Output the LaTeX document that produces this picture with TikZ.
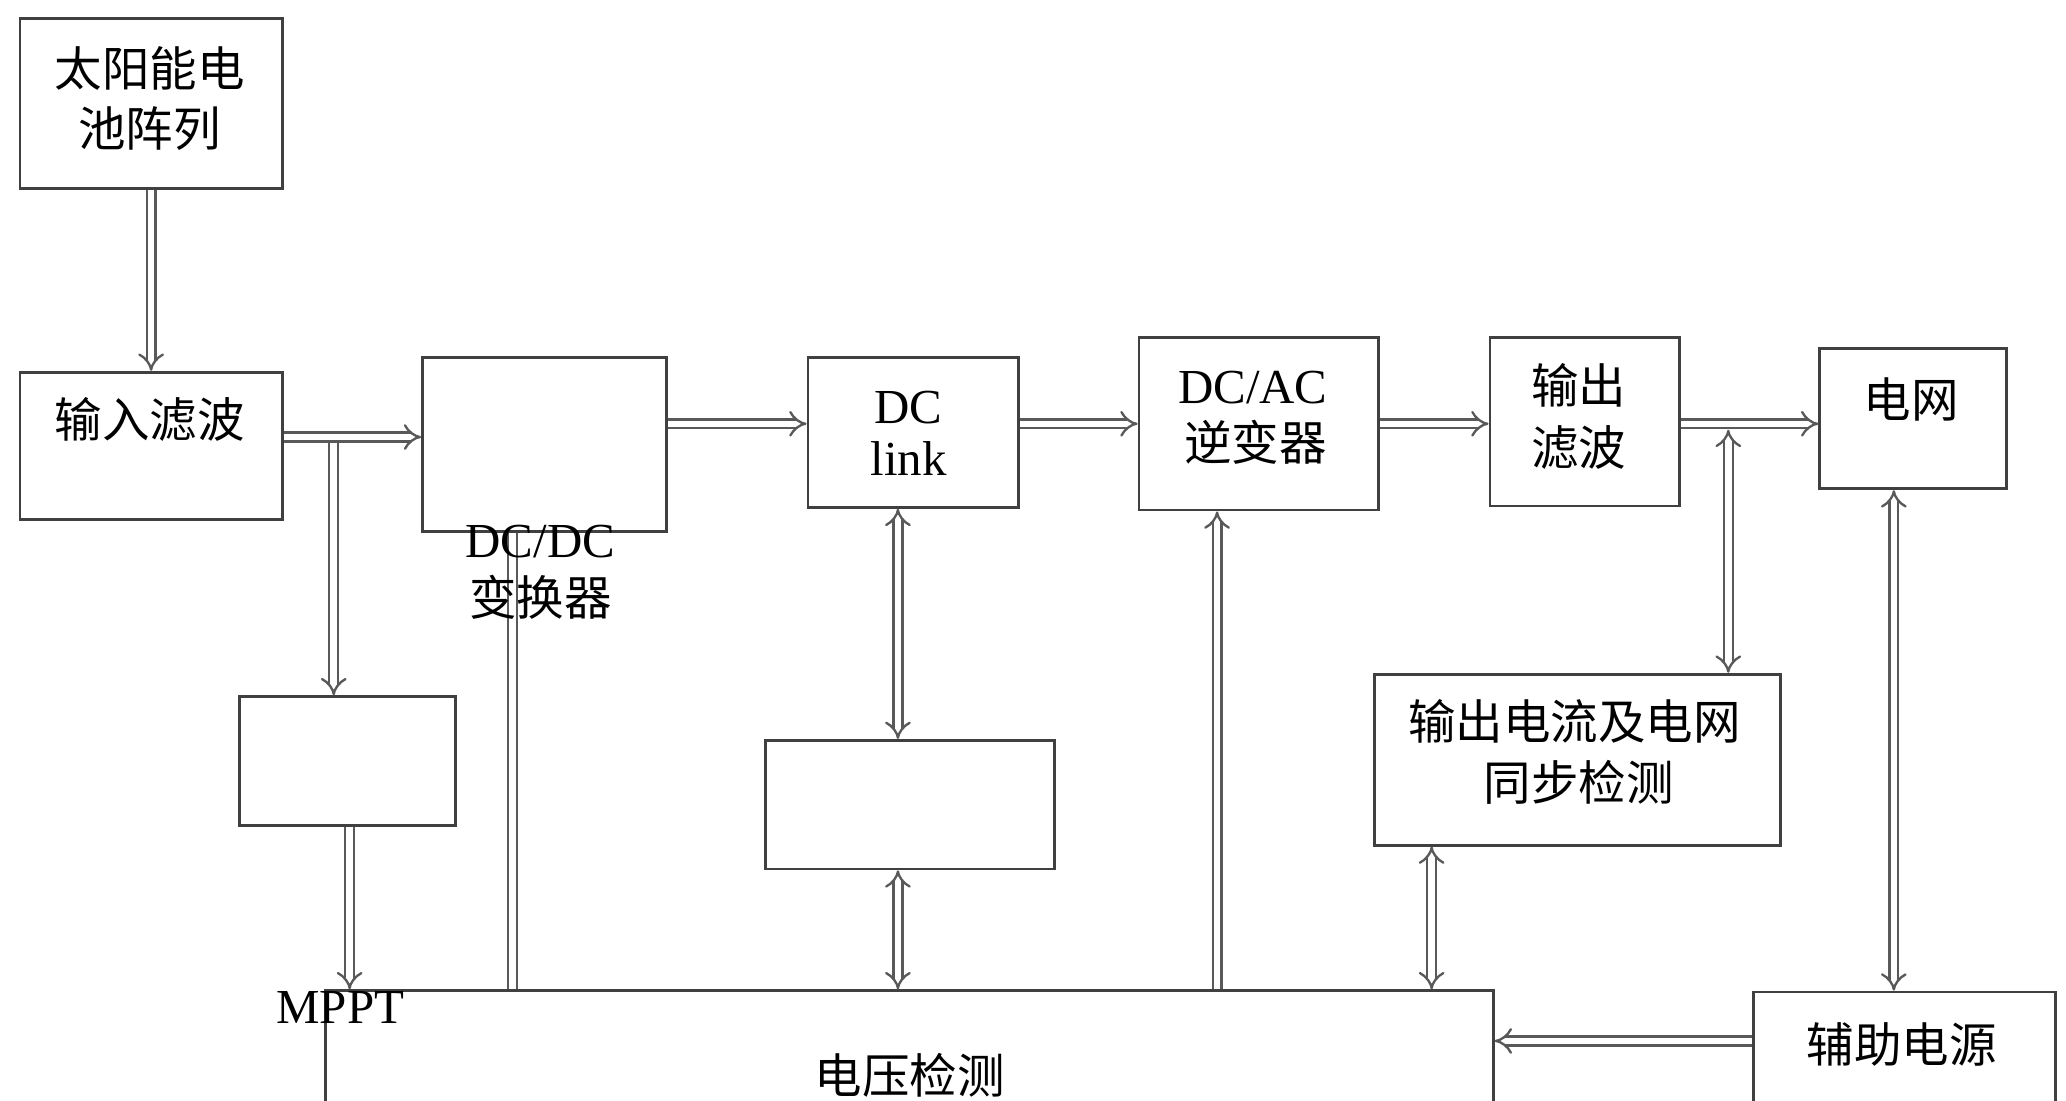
\documentclass[tikz,border=0pt]{standalone}
\usepackage{fontspec}
\setmainfont{Liberation Serif}
\newfontfamily\cjk{Noto Sans CJK SC}
\usetikzlibrary{arrows.meta,calc}
\begin{document}
\begin{tikzpicture}[x=0.01cm,y=-0.01cm,
  box/.style={draw=black!75, line width=0.6pt, rectangle, inner sep=0pt, anchor=north west},
  cn/.style={font=\cjk\fontsize{10.2}{12}\selectfont, inner sep=0pt, text=black},
  lat/.style={font=\fontsize{10.5}{12}\selectfont, inner sep=0pt, anchor=base, text=black},
  con/.style={draw=black!65, line width=0.5pt, double=white, double distance=1.4pt},
  arr/.style={con, -{Implies}},
  barr/.style={con, {Implies}-{Implies}}]
\useasboundingbox (0,0) rectangle (1560,831);
\clip (0,0) rectangle (1560,831);
\fill[white] (0,0) rectangle (1560,831);

% boxes
\node[box, minimum width=1.98cm, minimum height=1.28cm] (sun) at (14,13) {};
\node[box, minimum width=1.98cm, minimum height=1.11cm] (filt) at (14,280) {};
\node[box, minimum width=1.84cm, minimum height=1.31cm] (dcdc) at (318,269) {};
\node[box, minimum width=1.59cm, minimum height=1.13cm] (link) at (609,269) {};
\node[box, minimum width=1.81cm, minimum height=1.30cm] (dcac) at (859,254) {};
\node[box, minimum width=1.43cm, minimum height=1.27cm] (ofilt) at (1124,254) {};
\node[box, minimum width=1.41cm, minimum height=1.06cm] (grid) at (1373,262) {};
\node[box, minimum width=1.63cm, minimum height=0.97cm] (mppt) at (180,525) {};
\node[box, minimum width=2.18cm, minimum height=0.97cm] (mid) at (577,558) {};
\node[box, minimum width=3.06cm, minimum height=1.29cm] (sync) at (1037,508) {};
\node[box, minimum width=8.81cm, minimum height=1.20cm] (volt) at (245,747) {};
\node[box, minimum width=2.28cm, minimum height=1.20cm] (aux) at (1323,748) {};

% connectors
\draw[arr] (sun.south) -- (filt.north);
\draw[arr] (filt.east |- 0,330) -- (dcdc.west |- 0,330);
\coordinate (br) at (252,330);
\draw[arr] ([yshift=-0.045cm]br) -- (mppt.north -| br);
\draw[arr] (mppt.south -| 264,0) -- (volt.north -| 264,0);
\draw[con] (dcdc.south -| 387,0) -- (volt.north -| 387,0);
\draw[arr] (dcdc.east |- 0,320) -- (link.west |- 0,320);
\draw[arr] (link.east |- 0,320) -- (dcac.west |- 0,320);
\draw[arr] (dcac.east |- 0,320) -- (ofilt.west |- 0,320);
\draw[arr] (ofilt.east |- 0,320) -- (grid.west |- 0,320);
\coordinate (tap) at (1305,320);
\draw[barr] ([yshift=-0.045cm]tap) -- (sync.north -| tap);
\draw[barr] (grid.south -| 1430,0) -- (aux.north -| 1430,0);
\draw[arr] (aux.west |- 0,786) -- (volt.east |- 0,786);
\draw[barr] (sync.south -| 1081,0) -- (volt.north -| 1081,0);
\draw[arr] (volt.north -| 919,0) -- (dcac.south -| 919,0);
\draw[barr] (link.south -| 678,0) -- (mid.north -| 678,0);
\draw[barr] (mid.south -| 678,0) -- (volt.north -| 678,0);

% texts
\node[cn] (sunA) at (113,52) {太阳能电};
\node[cn] (sunB) at (113,97) {池阵列};
\node[cn] (filtT) at (113,317) {输入滤波};
\node[lat] (dcdcA) at (408,421) {DC/DC};
\node[cn] (dcdcB) at (408,451) {变换器};
\node[lat] (linkA) at (686,320) {DC};
\node[lat] (linkB) at (686,359) {link};
\node[lat] (dcacA) at (946,305) {DC/AC};
\node[cn] (dcacB) at (948,334) {逆变器};
\node[cn] (ofA) at (1192,291) {输出};
\node[cn] (ofB) at (1192,338) {滤波};
\node[cn] (gridT) at (1443,302) {电网};
\node[cn] (syncA) at (1189,545) {输出电流及电网};
\node[cn] (syncB) at (1192,591) {同步检测};
\node[lat] (mpptT) at (257,773) {MPPT};
\node[cn] (voltT) at (687,812) {电压检测};
\node[cn] (auxT) at (1436,789) {辅助电源};
\end{tikzpicture}
\end{document}
